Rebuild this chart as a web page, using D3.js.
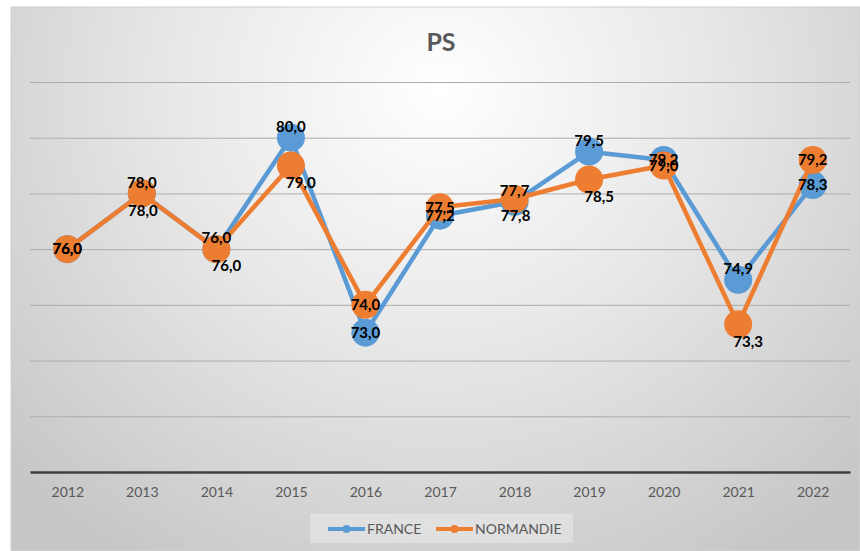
<!DOCTYPE html>
<meta charset="utf-8">
<head>
<script src="https://d3js.org/d3.v7.min.js"></script>
<style>
body { margin: 0; background: #fff; }
text { font-family: Lato, "Open Sans", sans-serif; }
</style>
</head>
<body>
<script>

// Data
var years = ["2012","2013","2014","2015","2016","2017","2018","2019","2020","2021","2022"];
var france    = [76.0, 78.0, 76.0, 80.0, 73.0, 77.2, 77.7, 79.5, 79.2, 74.9, 78.3];
var normandie = [76.0, 78.0, 76.0, 79.0, 74.0, 77.5, 77.8, 78.5, 79.0, 73.3, 79.2];
var yTicks = [68, 70, 72, 74, 76, 78, 80, 82];

// label placement (c = centre, t = above, b = below, r = below right)
var franceLab    = ["c","t","t","t","c","c","t","t","c","t","c"];
var normandieLab = ["c","b","r","r","c","c","b","r","c","r","c"];

var W = 860, H = 551;
var margin = {top: 82, right: 10, bottom: 79, left: 30},
    width = W - margin.left - margin.right,
    height = H - margin.top - margin.bottom;

var svg = d3.select("body").append("svg")
    .attr("width", W)
    .attr("height", H);

// background
var defs = svg.append("defs");
var grad = defs.append("radialGradient")
    .attr("id", "bg")
    .attr("gradientUnits", "userSpaceOnUse")
    .attr("cx", 440).attr("cy", 90).attr("r", 560)
    .attr("gradientTransform", "translate(440,90) scale(1.05,1) translate(-440,-90)");
grad.append("stop").attr("offset", "0").attr("stop-color", "#ffffff");
grad.append("stop").attr("offset", "0.45").attr("stop-color", "#e8e8e8");
grad.append("stop").attr("offset", "1").attr("stop-color", "#c6c6c6");

svg.append("rect")
    .attr("x", 11).attr("y", 7)
    .attr("width", W - 11).attr("height", H - 7)
    .attr("fill", "url(#bg)")
    .attr("stroke", "#d0d0d0");

var g = svg.append("g")
    .attr("transform", "translate(" + margin.left + "," + margin.top + ")");

// scales
var x = d3.scalePoint()
    .domain(years)
    .range([0, width])
    .padding(0.5);
var y = d3.scaleLinear()
    .domain([68, 82])
    .range([height, 0]);

// gridlines
g.append("g")
    .call(d3.axisLeft(y).tickValues(yTicks.slice(1)).tickSize(-width).tickFormat(""))
    .call(function(s) {
      s.select(".domain").remove();
      s.selectAll("line").attr("stroke", "#acacac").attr("stroke-width", 1);
    });

// x axis
g.append("g")
    .attr("transform", "translate(0," + height + ")")
    .call(d3.axisBottom(x).tickSize(0).tickPadding(15))
    .call(function(s) {
      s.select(".domain").attr("stroke", "#404040").attr("stroke-width", 2.5);
      s.selectAll("text")
        .attr("fill", "#595959")
        .style("font-size", "14px")
        .style("font-family", "Lato, sans-serif");
    });

// title
svg.append("text")
    .attr("x", 441).attr("y", 51)
    .attr("text-anchor", "middle")
    .attr("fill", "#595959")
    .style("font-size", "25px")
    .style("font-weight", "bold")
    .text("PS");

var series = [
  {name: "FRANCE", values: france, color: "#5b9bd5", lab: franceLab},
  {name: "NORMANDIE", values: normandie, color: "#ed7d31", lab: normandieLab}
];

var line = d3.line()
    .x(function(d, i) { return x(years[i]); })
    .y(function(d) { return y(d); });

series.forEach(function(s) {
  g.append("path")
      .datum(s.values)
      .attr("fill", "none")
      .attr("stroke", s.color)
      .attr("stroke-width", 4.5)
      .attr("stroke-linejoin", "round")
      .attr("d", line);
  g.selectAll(null)
      .data(s.values)
      .enter().append("circle")
      .attr("cx", function(d, i) { return x(years[i]); })
      .attr("cy", function(d) { return y(d); })
      .attr("r", 14)
      .attr("fill", s.color);
});

// data labels
var off = {c: [0, 0], t: [0, -11], b: [1, 17], r: [10, 17]};
var fmt = function(v) { return v.toFixed(1).replace(".", ","); };
series.forEach(function(s) {
  g.selectAll(null)
      .data(s.values)
      .enter().append("text")
      .attr("x", function(d, i) { return x(years[i]) + off[s.lab[i]][0]; })
      .attr("y", function(d, i) { return y(d) + off[s.lab[i]][1]; })
      .attr("dy", "0.35em")
      .attr("text-anchor", "middle")
      .attr("fill", "#000")
      .style("font-size", "15px")
      .style("font-weight", "bold")
      .text(fmt);
});

// legend
var leg = svg.append("g");
leg.append("rect")
    .attr("x", 310).attr("y", 514)
    .attr("width", 263).attr("height", 29)
    .attr("fill", "#ffffff").attr("fill-opacity", 0.3);
var legX = [328, 436];
series.forEach(function(s, i) {
  var lx = legX[i];
  leg.append("line")
      .attr("x1", lx).attr("x2", lx + 37)
      .attr("y1", 529).attr("y2", 529)
      .attr("stroke", s.color).attr("stroke-width", 4);
  leg.append("circle")
      .attr("cx", lx + 18.5).attr("cy", 529).attr("r", 4)
      .attr("fill", s.color);
  leg.append("text")
      .attr("x", lx + 39).attr("y", 529)
      .attr("dy", "0.35em")
      .attr("fill", "#595959")
      .style("font-size", "14px")
      .text(s.name);
});

</script>
</body>
